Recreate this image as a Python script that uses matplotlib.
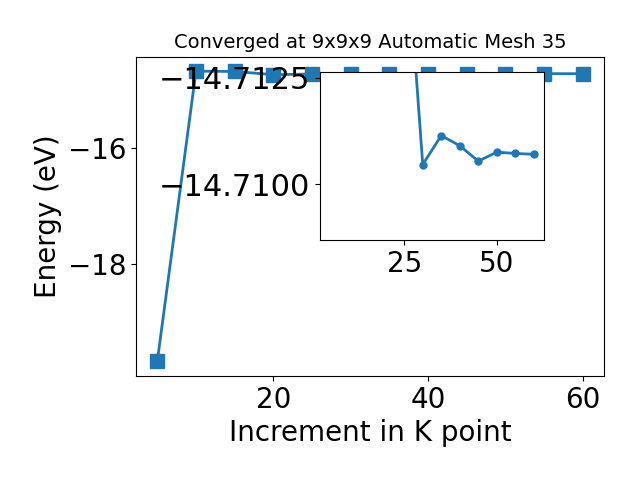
import matplotlib
matplotlib.use("Agg")
import matplotlib.pyplot as plt

kpoints = [5, 10, 15, 20, 25, 30, 35, 40, 45, 50, 55, 60]
energy = [-19.69, -14.667, -14.672, -14.728, -14.7164, -14.71046, -14.71114,
          -14.71090, -14.71054, -14.71075, -14.71072, -14.71070]
title = "Converged at 9x9x9 Automatic Mesh 35"
inset_start = 3
inset_xticks = [25, 50]
inset_yticks = [-14.7125, -14.7100]
inset_ylim = (-14.70869, -14.71263)
main_yticks = [-18, -16]
main_xticks = [20, 40, 60]

fig = plt.figure(figsize=(6.4, 4.8), dpi=100)
ax = fig.add_axes([0.2125, 0.2167, 0.7315, 0.6653])
ax.plot(kpoints, energy, marker="s", markersize=10, color="#1f77b4", linewidth=2)
ax.set_title(title, fontsize=14)
ax.set_xlabel("Increment in K point", fontsize=20)
ax.set_ylabel("Energy (eV)", fontsize=20)
ax.set_xticks(main_xticks)
ax.set_yticks(main_yticks)
ax.tick_params(labelsize=20)

ins = fig.add_axes([0.5, 0.5, 0.35, 0.35])
ins.plot(kpoints[inset_start:], energy[inset_start:], marker="o", markersize=5,
         color="#1f77b4", linewidth=2)
ins.set_xlim(ax.get_xlim())
ins.set_ylim(*inset_ylim)
ins.set_xticks(inset_xticks)
ins.set_yticks(inset_yticks)
ins.set_yticklabels(["\u221214.7125", "\u221214.7100"])
ins.tick_params(axis="x", labelsize=20)
ins.tick_params(axis="y", labelsize=22)

fig.savefig("out.png", dpi=100)
